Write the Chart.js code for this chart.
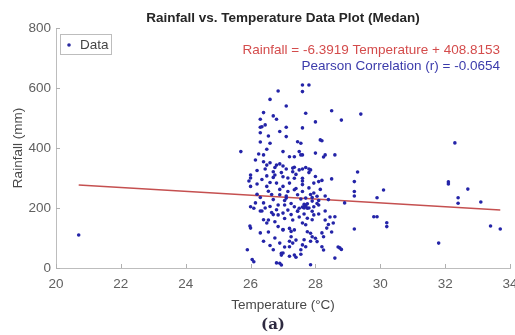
<!DOCTYPE html>
<html>
<head>
<meta charset="utf-8">
<title>Rainfall vs. Temperature (Medan)</title>
<script src="https://cdn.jsdelivr.net/npm/chart.js@4.4.0/dist/chart.umd.min.js"></script>
<style>
  html, body { margin: 0; padding: 0; background: #fff; }
  .chart-wrapper { position: relative; width: 515px; height: 335px; }
</style>
</head>
<body>
<div class="chart-wrapper">
  <canvas id="myChart" width="515" height="335"></canvas>
</div>
<script>
// values
const temperature = [
  20.7, 25.7, 31.8, 32.3, 32.1, 32.1, 32.7, 32.4, 32.4, 33.1, 33.4, 33.7,
  29.4, 28.8, 28.5, 29.3, 29.2, 29.2, 29.2, 30.1, 29.9, 29.8, 29.9, 30.2, 30.2, 29.2, 28.9, 28.6, 28.75, 28.7,
  27.6, 27.8, 27.6, 27.7, 28.0, 27.6, 28.2, 28.0, 28.25, 28.3, 28.6, 27.55, 28.5, 28.1, 28.15,
  26.6, 27.1, 26.4, 26.7, 26.3, 26.8, 26.45, 26.35, 26.3, 27.1, 26.3, 26.9, 27.1, 26.6, 27.45, 27.55,
  26.5, 27.0, 27.5, 26.4, 27.2, 27.35, 27.6,
  26.4, 26.5, 26.6, 26.8, 26.9, 27.0, 27.35, 27.3, 27.6, 27.85, 26.7, 26.0, 26.0, 25.95, 26.5, 26.7, 27.0, 27.35, 27.6,
  26.0, 26.5, 26.8, 27.0, 27.2, 27.35, 27.6, 27.8, 27.95, 26.9, 27.1, 26.7, 27.7, 27.9, 28.05,
  26.15, 26.4, 26.8, 27.0, 26.7, 27.25, 27.45, 27.65, 27.8, 27.9,
  26.4, 26.5, 27.0, 27.25, 27.6, 27.7, 26.0, 26.3, 26.4, 26.75, 26.9, 27.2, 27.3, 27.65, 27.85,
  25.9, 26.7, 27.0, 27.2, 27.4, 27.55, 26.05, 26.8, 27.85,
  28.1, 28.6, 28.55, 28.35, 28.2, 28.25, 28.8, 27.95, 28.05, 27.7, 27.75, 27.95, 27.75, 27.9,
  27.35, 27.5, 27.05, 27.15, 26.85, 26.75, 26.85, 27.0, 27.2, 27.35, 27.75, 27.85, 27.9, 27.25, 27.4,
  28.0, 28.05, 27.6, 27.7, 27.2, 26.95, 26.95, 27.35, 27.55, 26.9, 26.95, 28.2, 28.25,
  26.0, 26.1, 25.98, 26.1, 26.2,
  26.45, 26.75, 27.1, 27.3, 27.5, 27.7, 27.8,
  27.65, 27.7, 27.75, 27.6,
  26.55, 26.65, 26.9, 27.15, 27.45, 27.55, 27.95, 28.15, 28.3, 28.4,
  26.35, 26.6, 27.05, 27.3, 27.5, 28.1, 28.3, 28.45, 26.3, 26.2, 26.55, 26.6, 27.05, 28.4, 28.5,
  26.85, 26.3, 26.55, 26.15, 26.25,
  26.2, 26.35, 26.6, 26.75, 26.95, 27.15, 27.4, 27.6, 27.8, 28.0, 28.2,
  26.45, 26.65, 27.05, 27.25, 27.45, 27.65, 27.9, 28.1, 28.3,
  26.3, 26.55, 26.85, 27.1, 27.4, 27.6, 27.85
];
const rainfall = [
  110, 388, 83, 417, 287, 280, 263, 234, 216, 220, 140, 130,
  513, 493, 524, 320, 288, 255, 240, 260, 234, 171, 171, 151, 138, 130, 217, 33, 67, 70,
  610, 610, 588, 516, 487, 467, 424, 383, 370, 377, 377, 377, 297, 210, 427,
  562, 540, 518, 507, 496, 496, 477, 471, 469, 469, 451, 455, 438, 416, 421, 416,
  396, 388, 388, 377, 371, 371, 377,
  354, 343, 351, 343, 347, 340, 336, 321, 330, 327, 321, 310, 300, 290, 307, 302, 304, 299, 299,
  272, 272, 283, 272, 283, 261, 278, 267, 283, 244, 233, 228, 233, 223, 239,
  217, 217, 194, 183, 178, 178, 189, 200, 200, 189,
  161, 150, 128, 122, 150, 144, 133, 117, 89, 100, 83, 89, 83, 94, 89,
  61, 61, 50, 39, 36, 61, 28, 17, 11,
  288, 171, 150, 133, 117, 104, 62, 204, 215, 210, 199, 177, 166, 161,
  204, 199, 210, 193, 177, 154, 138, 127, 132, 127, 121, 116, 104, 104, 93,
  99, 88, 77, 71, 71, 49, 43, 43, 46, 16, 10, 71, 60,
  204, 199, 140, 21, 246,
  330, 335, 330, 333, 327, 335, 330,
  212, 206, 214, 203,
  256, 245, 262, 255, 244, 230, 250, 262, 240, 228,
  190, 205, 165, 160, 170, 180, 190, 170, 235, 280, 120, 75, 70, 145, 120,
  590, 420, 440, 360, 380,
  325, 295, 285, 310, 318, 300, 312, 290, 318, 305, 292,
  200, 185, 225, 215, 190, 180, 235, 225, 160,
  190, 160, 210, 240, 265, 255, 245
];

const xTicks = [20, 22, 24, 26, 28, 30, 32, 34];
const yTicks = [0, 200, 400, 600, 800];

const slope = -6.3919;
const intercept = 408.8153;
const pearsonR = -0.0654;

const titleText = 'Rainfall vs. Temperature Data Plot (Medan)';
const fitText = 'Rainfall = ' + slope.toFixed(4) + ' Temperature + ' + intercept.toFixed(4);
const corrText = 'Pearson Correlation (r) = ' + pearsonR.toFixed(4);

const FONT = '"Liberation Sans", Arial, Helvetica, sans-serif';

const points = temperature.map((t, i) => ({ x: t, y: rainfall[i] }));
const tMin = Math.min(...temperature);
const tMax = Math.max(...temperature);
const fitLine = [tMin, tMax].map(t => ({ x: t, y: intercept + slope * t }));

// texts, legend and inward ticks drawn on top
const overlay = {
  id: 'overlay',
  afterDraw(chart) {
    const c = chart.ctx;
    const a = chart.chartArea;
    const xs = chart.scales.x, ys = chart.scales.y;
    c.save();

    // inward tick marks
    c.strokeStyle = '#b0b0b0';
    c.lineWidth = 1;
    c.beginPath();
    xTicks.forEach(v => {
      const px = Math.round(xs.getPixelForValue(v)) + 0.5;
      c.moveTo(px, a.bottom); c.lineTo(px, a.bottom - 4);
    });
    yTicks.forEach(v => {
      const py = Math.round(ys.getPixelForValue(v)) + 0.5;
      c.moveTo(a.left, py); c.lineTo(a.left + 4, py);
    });
    c.stroke();

    // title
    c.fillStyle = '#262626';
    c.font = 'bold 13.5px ' + FONT;
    c.textAlign = 'center';
    c.textBaseline = 'middle';
    c.fillText(titleText, (a.left + a.right) / 2, 18);

    // fit / correlation text
    c.textAlign = 'right';
    c.font = '13.5px ' + FONT;
    c.fillStyle = '#d44c4c';
    c.fillText(fitText, 500, 50);
    c.fillStyle = '#3b3bab';
    c.fillText(corrText, 500, 66);

    // legend box
    c.fillStyle = '#fff';
    c.fillRect(60.5, 34.5, 51, 20);
    c.strokeStyle = '#bdbdbd';
    c.strokeRect(60.5, 34.5, 51, 20);
    c.fillStyle = '#2a2aa0';
    c.beginPath();
    c.arc(69, 45, 1.8, 0, Math.PI * 2);
    c.fill();
    c.fillStyle = '#444';
    c.textAlign = 'left';
    c.fillText('Data', 80, 45);

    // sub-figure label
    c.font = 'bold 15px "DejaVu Serif", "Liberation Serif", serif';
    c.fillStyle = '#2e2a40';
    c.textAlign = 'center';
    c.fillText('(a)', 273, 325);
    c.restore();
  }
};

const ctx = document.getElementById('myChart');
const myChart = new Chart(ctx, {
  type: 'scatter',
  data: {
    datasets: [
      {
        label: 'Data',
        data: points,
        pointRadius: 1.8,
        pointHoverRadius: 1.8,
        pointBorderWidth: 0,
        backgroundColor: '#2424a8',
        borderColor: '#2424a8'
      },
      {
        label: 'Fit',
        type: 'line',
        data: fitLine,
        borderColor: '#c55050',
        borderWidth: 1.6,
        pointRadius: 0,
        fill: false
      }
    ]
  },
  options: {
    responsive: false,
    animation: false,
    layout: { padding: { top: 28, right: 5, left: 0, bottom: 22 } },
    plugins: {
      legend: { display: false },
      title: { display: false },
      tooltip: { enabled: false }
    },
    scales: {
      x: {
        type: 'linear',
        min: 20,
        max: 34,
        afterBuildTicks: s => { s.ticks = xTicks.map(v => ({ value: v })); },
        afterFit: s => { s.height = 45; s.paddingLeft = 0; s.paddingRight = 0; },
        grid: { display: true, drawOnChartArea: false, drawTicks: false },
        border: { display: true, color: '#bdbdbd', width: 1 },
        ticks: { color: '#606060', padding: 8, font: { family: FONT, size: 13.5 }, maxRotation: 0 },
        title: { display: true, text: 'Temperature (°C)', color: '#484848', padding: { top: 4, bottom: 0 }, font: { family: FONT, size: 13.5 } }
      },
      y: {
        min: 0,
        max: 800,
        afterBuildTicks: s => { s.ticks = yTicks.map(v => ({ value: v })); },
        afterFit: s => { s.width = 56; s.paddingTop = 0; s.paddingBottom = 0; },
        grid: { display: true, drawOnChartArea: false, drawTicks: false },
        border: { display: true, color: '#bdbdbd', width: 1 },
        ticks: { color: '#606060', padding: 5, font: { family: FONT, size: 13.5 } },
        title: { display: true, text: 'Rainfall (mm)', color: '#484848', padding: { top: 10, bottom: 0 }, font: { family: FONT, size: 13.5 } }
      }
    }
  },
  plugins: [overlay]
});
</script>
</body>
</html>
